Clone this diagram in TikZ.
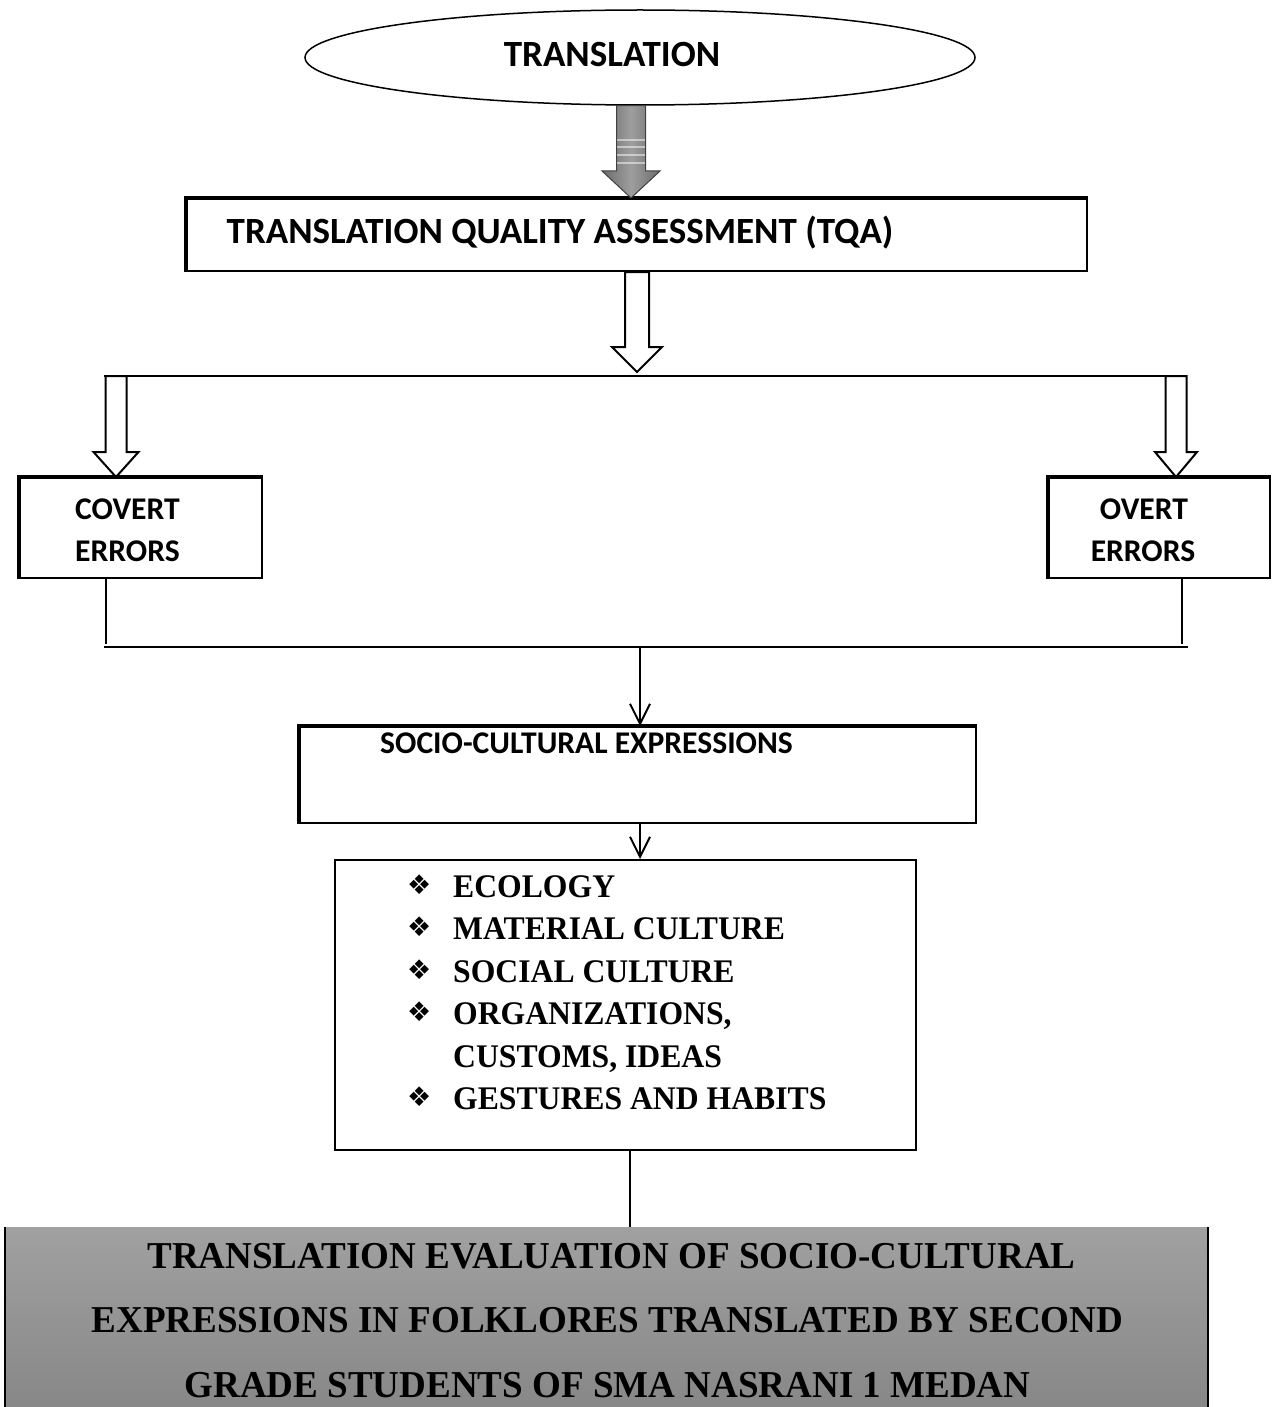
\documentclass[tikz,border=0pt]{standalone}
\usepackage{fontspec}
\setmainfont{Liberation Serif}
\newfontfamily\calib{Carlito}
\newfontfamily\symb{DejaVu Sans}
\newfontfamily\condser[FakeStretch=0.975]{Liberation Serif}
\newfontfamily\bulser[FakeStretch=0.96]{Liberation Serif}
\usetikzlibrary{shapes.geometric,arrows.meta,calc}

% block arrow: style, from, tip, half shaft, half head, head length
\newcommand\blockarrow[6]{%
  \path[#1] let \p1=(#2), \p2=(#3) in
    (\x2-#4,\y1) -- (\x2-#4,\y2+#6) -- (\x2-#5,\y2+#6) -- (\x2,\y2)
    -- (\x2+#5,\y2+#6) -- (\x2+#4,\y2+#6) -- (\x2+#4,\y1) -- cycle;}

\tikzset{
  lw/.style={line width=2pt},
  box/.style={draw, line width=2pt, rectangle, inner sep=0pt},
  thickedge/.style={line width=4.5pt},
  thinarrow/.style={line width=2pt, -{Straight Barb[length=20pt,width=20pt,line width=2pt]}},
  hollow/.style={draw, fill=white, line width=2pt, line join=miter},
  tq/.style={inner sep=0pt, font={\calib\bfseries\fontsize{37}{44}\selectfont}},
  sq/.style={inner sep=0pt, font={\calib\bfseries\fontsize{31.6}{38}\selectfont}},
  blt/.style={inner sep=0pt, font={\symb\fontsize{27}{30}\selectfont}},
  bltxt/.style={inner sep=0pt, font={\bulser\bfseries\fontsize{33}{40}\selectfont}},
  fintxt/.style={inner sep=0pt, font={\condser\bfseries\fontsize{38}{46}\selectfont}},
}

\begin{document}
\begin{tikzpicture}[x=1pt,y=-1pt]
\useasboundingbox (0,0) rectangle (1272,1407);

% ---- TRANSLATION ellipse
\node[ellipse, draw, line width=1.5pt, minimum width=670pt, minimum height=95pt, inner sep=0pt] (ell) at (640,57.5) {};
\node[tq, anchor=base] (elltxt) at (612,66.5) {TRANSLATION};

% ---- TQA box
\node[box, minimum width=900pt, minimum height=72pt] (tqa) at (637,235) {};
\draw[thickedge] (tqa.south west) -- (tqa.north west) -- (tqa.north east);
\node[tq, anchor=base] (tqatxt) at (560,243) {TRANSLATION QUALITY ASSESSMENT (TQA)};

% ---- gray arrow
\coordinate (gtip) at ($(tqa.north)+(-6,0)$);
\blockarrow{draw=black!75, line width=1pt, left color=black!58, right color=black!58, middle color=black!38}{ell.south}{gtip}{14.5pt}{29pt}{27pt}
\foreach \yy in {140,147,155,163}{\draw[white, opacity=.5, line width=2pt] (617,\yy) -- (645,\yy);}

% ---- first bar and hollow arrows
\coordinate (tipA) at (637,372);
\blockarrow{hollow}{tqa.south}{tipA}{12pt}{25pt}{25pt}
\coordinate (barAL) at (104,376);
\coordinate (barAR) at (1187,376);
\draw[lw] (barAL) -- (barAR);

\node[box, minimum width=242pt, minimum height=100pt] (cov) at (141,528) {};
\draw[thickedge] (cov.south west) -- (cov.north west) -- (cov.north east);
\node[box, minimum width=221pt, minimum height=100pt] (ovr) at (1159.5,528) {};
\draw[thickedge] (ovr.south west) -- (ovr.north west) -- (ovr.north east);

\coordinate (tipL) at ($(cov.north west)+(97,0)$);
\coordinate (tipR) at ($(ovr.north west)+(128,0)$);
\blockarrow{hollow}{barAL}{tipL}{10.5pt}{22.5pt}{25pt}
\blockarrow{hollow}{barAR}{tipR}{10.5pt}{21pt}{25pt}

\node[sq, anchor=base west] (covt1) at (75,519) {COVERT};
\node[sq, anchor=base west] (covt2) at (75,561) {ERRORS};
\node[sq, anchor=base] (ovt1) at (1144,519) {OVERT};
\node[sq, anchor=base] (ovt2) at (1143,561) {ERRORS};

% ---- second bar
\coordinate (cl) at ($(cov.south west)+(87,0)$);
\coordinate (or) at ($(ovr.south west)+(134,0)$);
\coordinate (barBL) at (104,647);
\coordinate (barBR) at (1188,647);
\draw[lw] (cl) -- ($(cl)+(0,65)$);
\draw[lw] (or) -- ($(or)+(0,65)$);
\draw[lw] (barBL) -- (barBR);

% ---- socio-cultural box
\node[box, minimum width=676pt, minimum height=96pt] (soc) at (638,775) {};
\draw[thickedge] (soc.south west) -- (soc.north west) -- (soc.north east);
\node[sq, anchor=base west] (soct) at (380,753) {SOCIO-CULTURAL EXPRESSIONS};
\coordinate (barBM) at (640,647);
\draw[thinarrow] (barBM) -- (barBM |- soc.north);

% ---- bullet box
\node[box, minimum width=581pt, minimum height=290pt] (bul) at (625.5,1005) {};
\coordinate (sa) at ($(soc.south)+(2,0)$);
\draw[thinarrow] (sa) -- (sa |- bul.north);

\node[blt, anchor=base west] (b1) at (407,894) {❖};
\node[blt, anchor=base west] (b2) at (407,936.5) {❖};
\node[blt, anchor=base west] (b3) at (407,979) {❖};
\node[blt, anchor=base west] (b4) at (407,1021.5) {❖};
\node[blt, anchor=base west] (b6) at (407,1106.5) {❖};
\node[bltxt, anchor=base west] (t1) at (453,897) {ECOLOGY};
\node[bltxt, anchor=base west] (t2) at (453,939.5) {MATERIAL CULTURE};
\node[bltxt, anchor=base west] (t3) at (453,982) {SOCIAL CULTURE};
\node[bltxt, anchor=base west] (t4) at (453,1024.5) {ORGANIZATIONS,};
\node[bltxt, anchor=base west] (t5) at (453,1067) {CUSTOMS, IDEAS};
\node[bltxt, anchor=base west] (t6) at (453,1109.5) {GESTURES AND HABITS};

% ---- final box
\node[minimum width=1203pt, minimum height=200pt, anchor=north, inner sep=0pt, top color=black!37, bottom color=black!48] (fin) at (606.5,1227) {};
\draw[line width=2.5pt] (fin.north west) -- (fin.south west);
\draw[line width=2.5pt] (fin.north east) -- (fin.south east);
\coordinate (bl) at ($(bul.south)+(4.5,0)$);
\draw[lw] (bl) -- (bl |- fin.north);

\node[fintxt, anchor=base] (f1) at (611.5,1268) {TRANSLATION EVALUATION OF SOCIO-CULTURAL};
\node[fintxt, anchor=base] (f2) at (607.5,1332.5) {EXPRESSIONS IN FOLKLORES TRANSLATED BY SECOND};
\node[fintxt, anchor=base] (f3) at (607.5,1397) {GRADE STUDENTS OF SMA NASRANI 1 MEDAN};
\end{tikzpicture}
\end{document}
